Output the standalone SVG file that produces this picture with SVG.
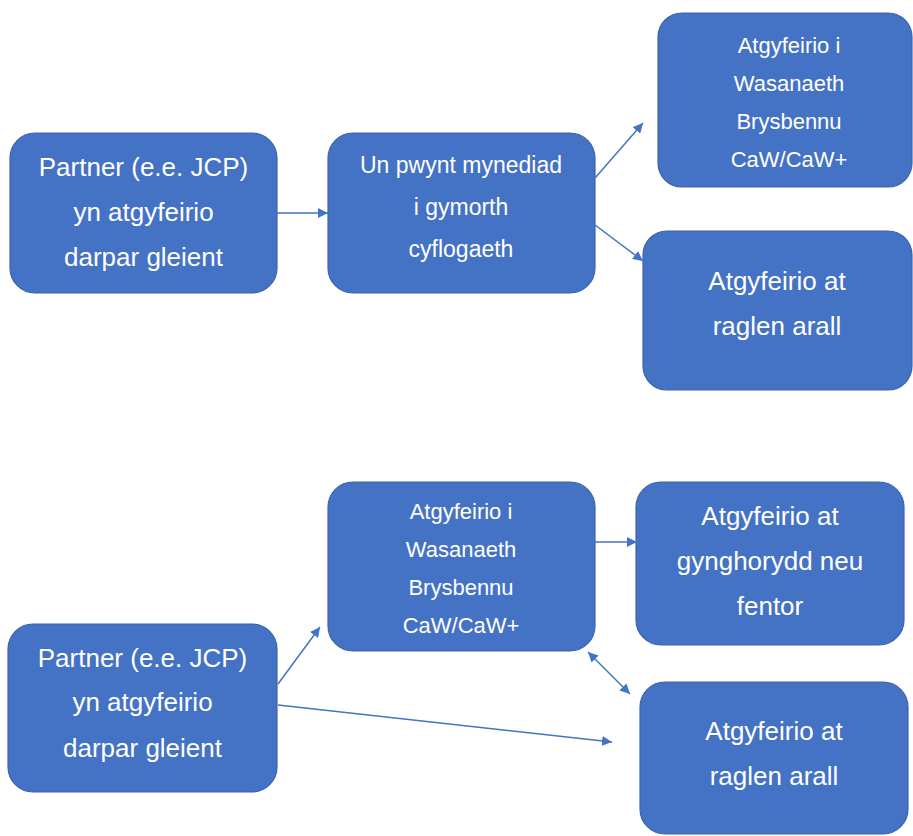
<svg xmlns="http://www.w3.org/2000/svg" width="913" height="836" viewBox="0 0 913 836">
<defs>
<style>
.box{fill:#4472C4;stroke:#3B64AD;stroke-width:1.2}
.t{fill:#ffffff;font-family:"Liberation Sans",Arial,sans-serif;text-anchor:middle}
.l{font-size:26px}
.s{font-size:22px}
.c{stroke:#4472C4;stroke-width:1.5;fill:none}
</style>
<marker id="ah" viewBox="0 0 10 10" refX="10" refY="5" markerWidth="10" markerHeight="10" markerUnits="userSpaceOnUse" orient="auto-start-reverse">
<path d="M0,0 L10,5 L0,10 z" fill="#4472C4"/>
</marker>
</defs>
<rect width="913" height="836" fill="#ffffff"/>
<g id="n1">
<rect class="box" x="10" y="133" width="267" height="160" rx="25"/>
<text class="t l" x="143.5" y="176">Partner (e.e. JCP)</text>
<text class="t l" x="143.5" y="221">yn atgyfeirio</text>
<text class="t l" x="143.5" y="266">darpar gleient</text>
</g>
<g id="n2">
<rect class="box" x="328" y="133" width="267" height="160" rx="25"/>
<text class="t s" x="461" y="173" style="font-size:23px">Un pwynt mynediad</text>
<text class="t s" x="461" y="215" style="font-size:23px">i gymorth</text>
<text class="t s" x="461" y="257" style="font-size:23px">cyflogaeth</text>
</g>
<g id="n3">
<rect class="box" x="658" y="13" width="254" height="174" rx="24"/>
<text class="t s" x="789" y="53">Atgyfeirio i</text>
<text class="t s" x="789" y="91">Wasanaeth</text>
<text class="t s" x="789" y="129">Brysbennu</text>
<text class="t s" x="789" y="167">CaW/CaW+</text>
</g>
<g id="n4">
<rect class="box" x="643" y="231" width="269" height="159" rx="24"/>
<text class="t l" x="777" y="290">Atgyfeirio at</text>
<text class="t l" x="777" y="335">raglen arall</text>
</g>
<g id="n5">
<rect class="box" x="8" y="624" width="269" height="168" rx="25"/>
<text class="t l" x="142.5" y="667">Partner (e.e. JCP)</text>
<text class="t l" x="142.5" y="711">yn atgyfeirio</text>
<text class="t l" x="142.5" y="757">darpar gleient</text>
</g>
<g id="n6">
<rect class="box" x="328" y="482" width="267" height="169" rx="25"/>
<text class="t s" x="461" y="519">Atgyfeirio i</text>
<text class="t s" x="461" y="557">Wasanaeth</text>
<text class="t s" x="461" y="595">Brysbennu</text>
<text class="t s" x="461" y="633">CaW/CaW+</text>
</g>
<g id="n7">
<rect class="box" x="636" y="482" width="268" height="163" rx="25"/>
<text class="t l" x="770" y="525">Atgyfeirio at</text>
<text class="t l" x="770" y="570">gynghorydd neu</text>
<text class="t l" x="770" y="615">fentor</text>
</g>
<g id="n8">
<rect class="box" x="640" y="682" width="268" height="152" rx="25"/>
<text class="t l" x="774" y="740">Atgyfeirio at</text>
<text class="t l" x="774" y="785">raglen arall</text>
</g>
<g id="connectors">
<line class="c" x1="277" y1="213" x2="328" y2="213" marker-end="url(#ah)"/>
<line class="c" x1="595" y1="178" x2="643" y2="123" marker-end="url(#ah)"/>
<line class="c" x1="595" y1="225" x2="643" y2="261" marker-end="url(#ah)"/>
<line class="c" x1="595" y1="542" x2="637" y2="542" marker-end="url(#ah)"/>
<line class="c" x1="278" y1="684" x2="320" y2="627" marker-end="url(#ah)"/>
<line class="c" x1="278" y1="705" x2="612" y2="742" marker-end="url(#ah)"/>
<line class="c" x1="588" y1="652" x2="630" y2="694" marker-start="url(#ah)" marker-end="url(#ah)"/>
</g>
</svg>
